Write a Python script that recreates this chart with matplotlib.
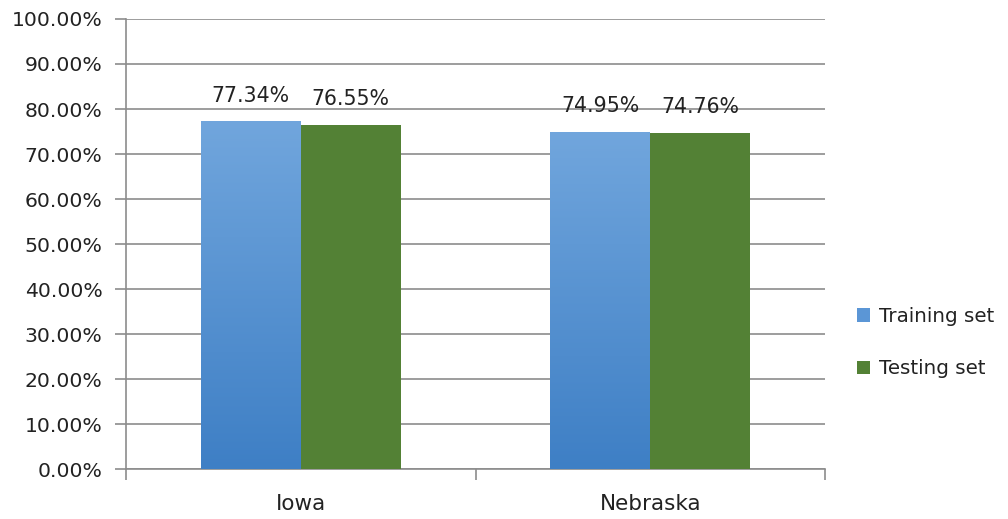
import matplotlib.pyplot as plt
import numpy as np
from matplotlib.colors import LinearSegmentedColormap
from matplotlib.patches import Patch

states = ["Iowa", "Nebraska"]
training = [77.34, 74.95]
testing = [76.55, 74.76]
y_ticks = [0, 10, 20, 30, 40, 50, 60, 70, 80, 90, 100]

blue_top = "#71a6dd"
blue_bottom = "#3e7fc5"
green = "#538135"
grid_color = "#8c8c8c"
text_color = "#222222"

plt.rcParams["font.family"] = "DejaVu Sans"

fig = plt.figure(figsize=(10.08, 5.19), dpi=100)
ax = fig.add_axes([0.125, 0.0963, 0.6935, 0.8671])

x = np.arange(len(states))
width = 0.2857

train_bars = ax.bar(x - width / 2, training, width, color="none", zorder=3)
test_bars = ax.bar(x + width / 2, testing, width, color=green, zorder=3)

# vertical gradient fill for the training bars
cmap = LinearSegmentedColormap.from_list("blue_grad", [blue_bottom, blue_top])
grad = np.linspace(0, 1, 256).reshape(-1, 1)
for bar in train_bars:
    x0, y0 = bar.get_x(), bar.get_y()
    img = ax.imshow(grad, cmap=cmap, origin="lower", aspect="auto",
                    extent=[x0, x0 + bar.get_width(), y0, y0 + bar.get_height()],
                    zorder=3)
    img.set_clip_path(bar)

for bars, vals in [(train_bars, training), (test_bars, testing)]:
    for bar, v in zip(bars, vals):
        ax.text(bar.get_x() + bar.get_width() / 2, v + 3.4, f"{v:.2f}%",
                ha="center", va="bottom", fontsize=14.8, color=text_color)

ax.set_xlim(-0.5, 1.5)
ax.set_ylim(0, 100)
ax.set_yticks(y_ticks)
ax.set_yticklabels([f"{t:.2f}%" for t in y_ticks])
ax.set_xticks([-0.5, 0.5, 1.5])
ax.set_xticklabels([])
ax.set_xticks(x, minor=True)
ax.set_xticklabels(states, minor=True)
ax.tick_params(axis="x", which="minor", length=0, pad=18, labelsize=15.5,
               labelcolor=text_color)
ax.tick_params(axis="x", which="major", length=8, color=grid_color, width=1.2)
ax.tick_params(axis="y", length=8, color=grid_color, width=1.2,
               labelsize=14.7, pad=9, labelcolor=text_color)

ax.grid(axis="y", color=grid_color, linewidth=1.2, zorder=0)
ax.set_axisbelow(True)
for side in ["top", "right"]:
    ax.spines[side].set_visible(False)
for side in ["left", "bottom"]:
    ax.spines[side].set_color(grid_color)
    ax.spines[side].set_linewidth(1.2)

handles = [Patch(facecolor="#5b96d6", label="Training set"),
           Patch(facecolor=green, label="Testing set")]
fig.legend(handles=handles, loc="center left", bbox_to_anchor=(0.832, 0.34),
           frameon=False, fontsize=14.3, handlelength=0.7, handleheight=0.7,
           handletextpad=0.45, labelspacing=1.7, labelcolor=text_color)

fig.savefig("out.png", dpi=100)
